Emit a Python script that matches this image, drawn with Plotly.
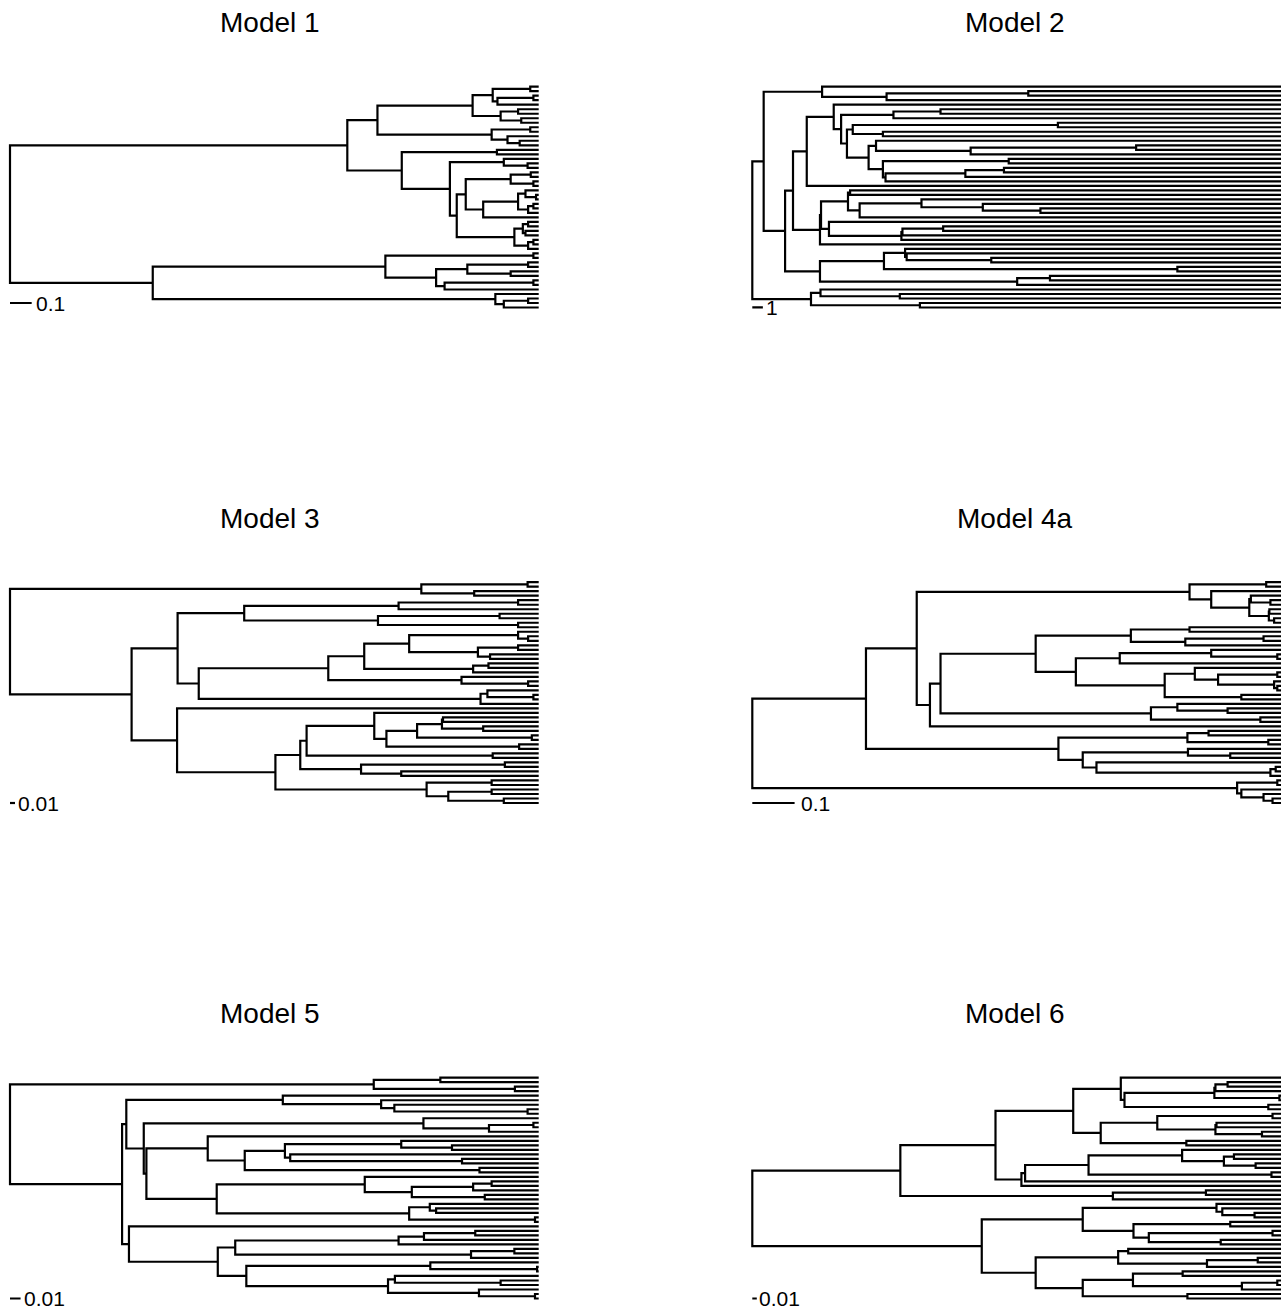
import re
import plotly.graph_objects as go

# ---------------------------------------------------------------- data
TITLES = ["Model 1", "Model 2", "Model 3", "Model 4a", "Model 5", "Model 6"]

# Newick-like trees: "t" = tip, the number after ")" = node depth in % of root-to-tip length
TREE_MODEL_1 = (
    "((("
    "(((t,t)98.4,((t,t)99.0,t)92.2)91.3,((t,t)96.1,(t,t)96.7)92.8)87.5,"
    "((t,t)98.4,(t,(t,t)96.4)94.1)91.1)69.5,"
    "((t,t)92.1,((t,(t,t)97.9)93.4,"
    "((((t,t)98.5,(t,t)99.0)94.7,(((t,(t,t)99.5)97.5,((t,t)99.0,t)98.0)96.1,t)89.5)86.2,"
    "(((t,t)98.0,(t,t)97.5)97.0,((t,t)99.0,t)98.0)95.4)84.5)83.2)74.1)63.8,"
    "(((t,t)99.0,(((t,t)98.0,(t,t)94.7)86.5,((t,t)99.0,t)82.2)80.6)71.0,"
    "(t,((t,t)98.0,t)93.4)91.8)27.0)0"
)

TREE_MODEL_2 = (
    "(("
    "(t,((t,t)52.2,t)25.4)13.2,"
    "((("
    "(t,"
    "(((t,t)35.6,t)26.7,"
    "(((t,t)57.8,(t,t)24.7)19.0,"
    "((t,((t,t)72.6,t)41.3)23.4,((t,t)48.5,(((t,t)47.6,t)40.3,t)25.2)24.7)22.0"
    ")17.9)16.8)15.4,t)10.3,"
    "((((t,t)18.5,((t,(t,(t,t)54.5)43.6)32.0,t)20.3)18.1,(t,(((t,t)36.1,t)28.4,t)28.2)14.5)13.0,t)12.8"
    ")7.7,"
    "(((t,(t,(t,t)45.2)29.2)28.9,(t,t)80.4)24.9,((t,t)56.3,t)50.1)12.8"
    ")6.2)2.15,"
    "((t,(t,t)27.9)12.9,(t,t)31.7)11.1)0"
)

TREE_MODEL_3 = (
    "(((t,t)97.9,(t,t)87.8)77.8,"
    "(("
    "(((t,t)96.1,t)73.5,((t,t)92.6,(t,t)96.1)69.6)44.3,"
    "((("
    "((t,(t,t)98.0)96.1,((t,t)96.1,(t,t)90.8)88.5)75.5,"
    "((t,t)90.5,t)87.6)67.0,"
    "(t,(t,t)98.0)85.4)60.2,"
    "((t,(t,t)99.0)90.3,t)89.0)35.7)31.7,"
    "(t,"
    "(((("
    "t,((("
    "(t,t)81.9,(t,t)89.5)81.7,(t,t)98.7)77.0,(t,t)96.3)71.2)68.9,"
    "(t,t)91.3)56.1,"
    "((t,t)93.6,(t,t)74.0)66.4)54.9,"
    "((t,t)91.1,((t,t)91.1,(t,t)93.4)82.9)78.8)50.2)31.6)23.0)0"
)

TREE_MODEL_4A = (
    "((("
    "((t,t)97.2,(t,((t,(t,t)98.0)94.3,((t,t)97.8,(t,t)98.7)97.7)94.0)86.8)82.7,"
    "((("
    "((t,t)82.7,((t,t)96.7,t)81.9)71.6,"
    "(((t,(t,t)99.3)86.8,t)69.5,((t,((t,t)99.3,(t,(t,t)99.3)98.7)88.1)83.7,(t,t)92.5)78.0)61.2)53.6,"
    "((t,(t,t)89.9)80.4,(t,t)96.1)75.4)35.6,t)33.6)31.1,"
    "(((t,t)86.3,(t,t)97.6)82.3,((t,(t,t)90.4)82.4,(t,((t,t)99.0,t)98.0)65.1)62.5)57.9)21.5,"
    "((t,t)99.3,(t,(t,(t,t)98.4)96.7)92.5)91.7)0"
)

TREE_MODEL_5 = (
    "(((t,t)81.4,(t,t)95.5)68.8,"
    "(("
    "(t,(t,(t,(t,t)97.9)72.7)70.2)51.6,"
    "("
    "(t,((t,t)99.0,t)90.6)78.2,"
    "(("
    "t,(((t,(t,t)83.6)74.0,(t,(t,t)85.5)53.0)52.0,(t,t)88.8)44.4)37.4,"
    "((t,(((t,t)91.1,t)87.6,(t,t)89.8)76.0)67.1,((t,(t,t)80.6)79.4,(t,t)99.3)75.5)39.1"
    ")25.8)25.3)22.0,"
    "(t,"
    "(((((t,t)88.0,t)78.3,t)73.5,((t,t)95.4,t)87.2)42.6,"
    "((t,(t,t)99.7)79.5,((t,(t,t)92.8)72.8,(t,(t,t)99.3)88.7)71.5)44.7)39.3"
    ")22.5)21.2)0"
)

TREE_MODEL_6 = (
    "((("
    "((t,((((t,t)89.9,t)87.6,(t,t)99.7)87.4,(t,t)97.6)70.4)69.7,"
    "(((t,t)98.4,((t,t)87.8,(t,t)96.4)87.6)76.6,(t,t)82.1)65.9)60.7,"
    "((((t,((t,t)91.1,(t,t)95.2)89.2)81.3,(t,t)98.2)63.6,t)51.6,t)50.9)46.0,"
    "((t,t)85.8,t)68.2)28.0,"
    "(((t,(t,(t,t)95.0)88.9)87.8,((t,t)90.4,((t,t)98.4,(t,t)88.6)75.0)72.1)62.5,"
    "(((t,t)71.1,((t,t)95.6,t)86.0)69.2,(((t,t)81.4,((t,t)99.3,t)92.6)72.0,(t,t)82.3)62.5)53.6"
    ")43.4)0"
)

TREES = [TREE_MODEL_1, TREE_MODEL_2, TREE_MODEL_3, TREE_MODEL_4A, TREE_MODEL_5, TREE_MODEL_6]

# scale bar length (same % units as the node depths) and its label
SCALE_LENGTH_PCT = [4.1, 2.0, 0.95, 8.0, 2.0, 0.85]
SCALE_LABELS = ["0.1", "1", "0.01", "0.1", "0.01", "0.01"]

# ---------------------------------------------------------------- tree helpers
NUM = re.compile(r"[0-9.]+")


def parse_tree(text):
    s = text.replace(" ", "")
    pos = 0

    def node():
        nonlocal pos
        if s[pos] == "(":
            pos += 1
            kids = [node()]
            while s[pos] == ",":
                pos += 1
                kids.append(node())
            if s[pos] != ")":
                raise ValueError("bad tree near %d" % pos)
            pos += 1
            m = NUM.match(s, pos)
            pos = m.end()
            return {"x": float(m.group()), "kids": kids}
        if s[pos] == "t":
            pos += 1
            return {"x": 100.0, "kids": []}
        raise ValueError("bad tree near %d" % pos)

    root = node()
    if pos != len(s):
        raise ValueError("trailing text in tree")
    return root


def assign_y(root):
    counter = [0]

    def rec(n):
        if not n["kids"]:
            n["y"] = counter[0]
            counter[0] += 1
        else:
            for k in n["kids"]:
                if k["x"] < n["x"]:
                    k["x"] = n["x"]
                rec(k)
            n["y"] = (n["kids"][0]["y"] + n["kids"][-1]["y"]) / 2.0

    rec(root)
    return counter[0]


def tree_path(root):
    xs, ys = [], []

    def rec(n):
        kids = n["kids"]
        if not kids:
            return
        a, b = kids[0], kids[-1]
        xs.extend([a["x"], n["x"], n["x"], b["x"], None])
        ys.extend([a["y"], a["y"], b["y"], b["y"], None])
        for k in kids[1:-1]:
            xs.extend([n["x"], k["x"], None])
            ys.extend([k["y"], k["y"], None])
        for k in kids:
            rec(k)

    rec(root)
    return xs, ys


# ---------------------------------------------------------------- layout (pixels)
W, H = 1285, 1309
COL_X = [(10.0, 538.7), (752.3, 1281.0)]
ROW_TOP = [86.7, 582.2, 1077.7]
ROW_BOTTOM = [307.5, 803.0, 1298.5]
TITLE_CX = [270.4, 1015.0]
TITLE_CY = [22.5, 518.0, 1013.5]
BAR_Y_PX = [303.0, 307.3, 803.0, 803.0, 1298.5, 1298.5]
PAD_L, PAD_R, PAD_T, PAD_B = 6.0, 4.0, 5.0, 8.0
FONT = "Liberation Sans, Arial, Helvetica, sans-serif"
LINE_W = 2.2

fig = go.Figure()
annotations = []

for i, tree_text in enumerate(TREES):
    r, c = divmod(i, 2)
    root = parse_tree(tree_text)
    ntip = assign_y(root)
    xs, ys = tree_path(root)

    x0, x1 = COL_X[c]
    y0, y1 = ROW_TOP[r], ROW_BOTTOM[r]
    upp = 100.0 / (x1 - x0)
    ipp = (ntip - 1) / (y1 - y0)

    ax = "" if i == 0 else str(i + 1)
    xref, yref = "x" + ax, "y" + ax

    fig.add_trace(go.Scatter(
        x=xs, y=ys, mode="lines", xaxis=xref, yaxis=yref,
        line=dict(color="black", width=LINE_W), hoverinfo="skip", showlegend=False,
    ))

    bar_y = (BAR_Y_PX[i] - y0) * ipp
    fig.add_trace(go.Scatter(
        x=[0, SCALE_LENGTH_PCT[i]], y=[bar_y, bar_y], mode="lines",
        xaxis=xref, yaxis=yref, line=dict(color="black", width=LINE_W),
        hoverinfo="skip", showlegend=False,
    ))
    annotations.append(dict(
        x=SCALE_LENGTH_PCT[i] * 1.1, y=bar_y, xref=xref, yref=yref,
        text=SCALE_LABELS[i], showarrow=False, xanchor="left", yanchor="middle",
        font=dict(family=FONT, size=21, color="black"),
    ))
    annotations.append(dict(
        x=TITLE_CX[c] / W, y=1 - TITLE_CY[r] / H, xref="paper", yref="paper",
        text=TITLES[i], showarrow=False, xanchor="center", yanchor="middle",
        font=dict(family=FONT, size=28, color="black"),
    ))

    xdom = [(x0 - PAD_L) / W, (x1 + PAD_R) / W]
    ydom = [1 - (y1 + PAD_B) / H, 1 - (y0 - PAD_T) / H]
    fig.layout["xaxis" + ax] = dict(
        domain=xdom, range=[-PAD_L * upp, 100 + PAD_R * upp], visible=False,
        anchor=yref, fixedrange=True,
    )
    fig.layout["yaxis" + ax] = dict(
        domain=ydom, range=[(ntip - 1) + PAD_B * ipp, -PAD_T * ipp], visible=False,
        anchor=xref, fixedrange=True,
    )

fig.update_layout(
    width=W, height=H, margin=dict(l=0, r=0, t=0, b=0),
    paper_bgcolor="white", plot_bgcolor="white", showlegend=False,
    annotations=annotations, font=dict(family=FONT),
)

fig.write_html(
    "out.html",
    config={"displayModeBar": False},
    post_script="document.body.style.margin='0px';document.body.style.overflow='hidden';",
)
